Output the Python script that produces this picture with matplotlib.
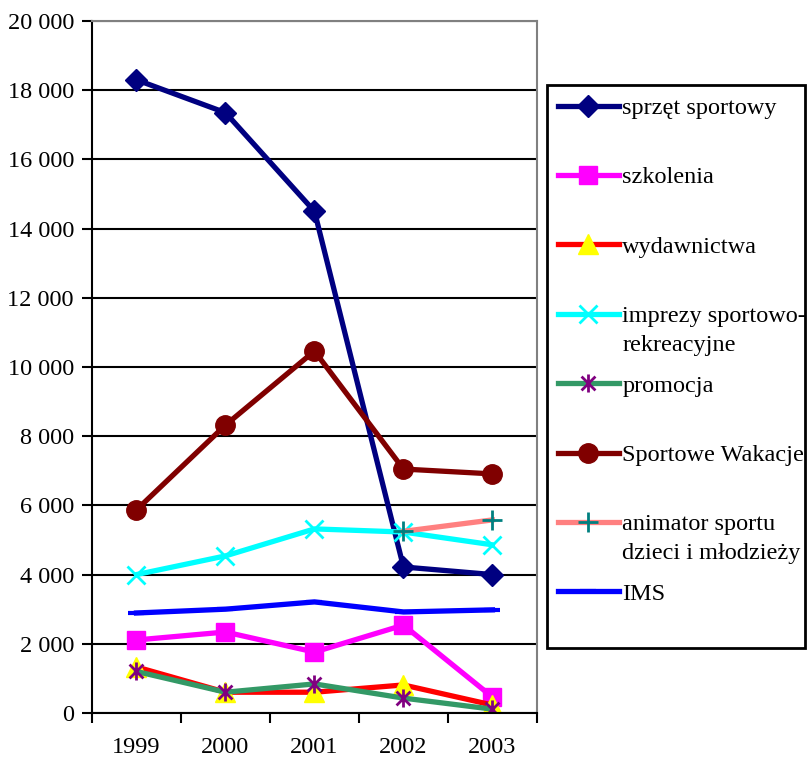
import matplotlib.pyplot as plt
from matplotlib.path import Path
from matplotlib.patches import Rectangle
from matplotlib.ticker import FuncFormatter, FixedLocator
import numpy as np

plt.rcParams['font.family'] = ['Liberation Serif', 'DejaVu Serif']

years = ['1999', '2000', '2001', '2002', '2003']

sprzet = [18300, 17350, 14500, 4220, 4000]
szkolenia = [2110, 2340, 1760, 2540, 460]
wydawnictwa = [1330, 600, 600, 810, 230]
imprezy = [4000, 4540, 5320, 5230, 4860]
promocja = [1200, 600, 840, 430, 110]
wakacje = [5870, 8320, 10460, 7050, 6910]
animator = [np.nan, np.nan, np.nan, 5250, 5580]
ims = [2890, 3000, 3210, 2920, 2980]

# legend labels; second lines are drawn under the first one (Excel style spacing)
labels = ['sprzęt sportowy', 'szkolenia', 'wydawnictwa', 'imprezy sportowo-', 'promocja',
          'Sportowe Wakacje', 'animator sportu', 'IMS']
second_lines = {3: 'rekreacyjne', 6: 'dzieci i młodzieży'}

# asterisk marker like in Excel: x plus vertical bar
asterisk = Path([(-1, -1), (1, 1), (-1, 1), (1, -1), (0, -1.3), (0, 1.3)],
                [Path.MOVETO, Path.LINETO, Path.MOVETO, Path.LINETO, Path.MOVETO, Path.LINETO])

fig = plt.figure(figsize=(8.09, 7.58), dpi=100)
ax = fig.add_axes([0.1137, 0.0594, 0.55, 0.9129])

x = np.arange(len(years))
lw = 3.8
fs = 17.5
h = []
h += ax.plot(x, sprzet, color='#000080', lw=lw, marker='D', ms=11, mfc='#000080', mec='#000080')
h += ax.plot(x, szkolenia, color='#FF00FF', lw=lw, marker='s', ms=13, mfc='#FF00FF', mec='#FF00FF')
h += ax.plot(x, wydawnictwa, color='#FF0000', lw=lw, marker='^', ms=14, mfc='#FFFF00', mec='#FFFF00')
h += ax.plot(x, imprezy, color='#00FFFF', lw=lw, marker='x', ms=13, mew=2, mec='#00FFFF')
h += ax.plot(x, promocja, color='#339966', lw=lw, marker=asterisk, ms=13, mew=2, mec='#800080',
             mfc='none')
h += ax.plot(x, wakacje, color='#800000', lw=lw, marker='o', ms=14, mfc='#800000', mec='#800000')
h += ax.plot(x, animator, color='#FF8080', lw=lw, marker='+', ms=14, mew=2, mec='#008080')
h += ax.plot(x, ims, color='#0000FF', lw=lw, marker='_', ms=12, mew=3, mec='#0000FF')

ax.set_xlim(-0.5, 4.5)
ax.set_ylim(0, 20000)
ax.set_yticks(range(0, 20001, 2000))
ax.yaxis.set_major_formatter(FuncFormatter(lambda v, p: f'{int(v):,}'.replace(',', ' ')))
ax.yaxis.grid(True, color='black', lw=1.5)
ax.set_axisbelow(True)

ax.xaxis.set_major_locator(FixedLocator(np.arange(-0.5, 5, 1)))
ax.xaxis.set_major_formatter(FuncFormatter(lambda v, p: ''))
ax.xaxis.set_minor_locator(FixedLocator(x))
ax.set_xticklabels(years, minor=True)
ax.tick_params(axis='x', which='major', direction='out', length=7, width=1.5)
ax.tick_params(axis='x', which='minor', length=0, pad=17, labelsize=fs)
ax.tick_params(axis='y', direction='out', length=7, width=1.5, pad=6, labelsize=fs)

ax.spines['left'].set_linewidth(1.5)
ax.spines['bottom'].set_linewidth(1.5)
ax.spines['top'].set_color('#808080')
ax.spines['right'].set_color('#808080')
ax.spines['top'].set_linewidth(1.5)
ax.spines['right'].set_linewidth(1.5)

# legend box drawn separately so it can reach below the last entry like the original
fig.add_artist(Rectangle((0.676, 0.145), 0.319, 0.743, transform=fig.transFigure,
                         facecolor='white', edgecolor='black', lw=2, zorder=1))
leg = fig.legend(h, labels, loc='upper left', bbox_to_anchor=(0.6897, 0.872),
                 fontsize=fs, frameon=False, labelspacing=1.95, handlelength=2.5,
                 handletextpad=0.15, borderaxespad=0, borderpad=0)
leg.set_zorder(2)

fig.canvas.draw()
inv = fig.transFigure.inverted()
for i, txt in second_lines.items():
    bb = leg.get_texts()[i].get_window_extent()
    fx, fy = inv.transform((bb.x0, bb.y0 - 29))
    fig.text(fx, fy, txt, fontsize=fs, ha='left', va='bottom', zorder=3)

plt.savefig('out.png', dpi=100)
